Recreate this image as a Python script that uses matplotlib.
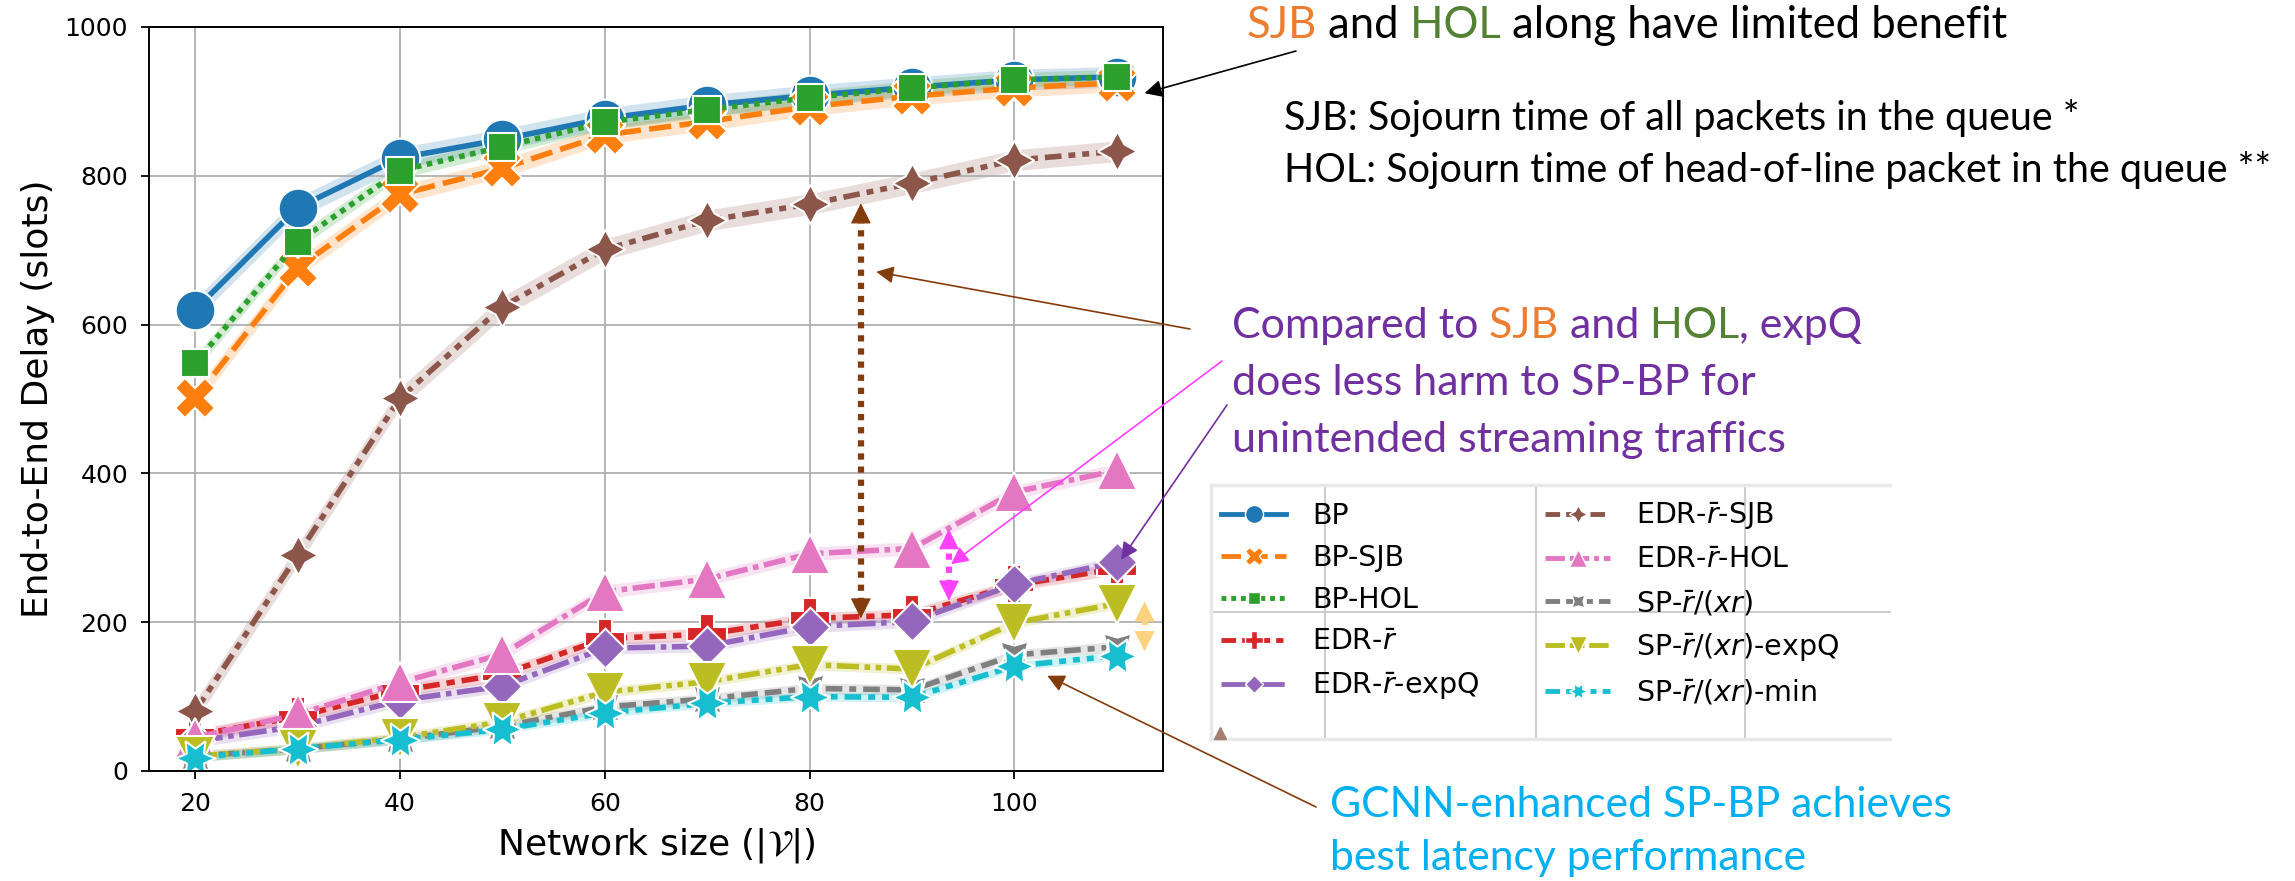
import matplotlib
matplotlib.use("Agg")
import matplotlib.pyplot as plt
from matplotlib.lines import Line2D
from matplotlib.patches import Rectangle

W, H = 2295, 881

sizes = [20, 30, 40, 50, 60, 70, 80, 90, 100, 110]

bp = [620, 757, 824, 849, 877, 895, 908, 919, 929, 933]
bp_sjb = [501, 676, 775, 810, 855, 873, 893, 907, 918, 925]
bp_hol = [548, 711, 807, 839, 872, 889, 905, 918, 929, 933]
edr = [48, 73, 108, 130, 178, 184, 205, 210, 250, 272]
edr_expq = [40, 60, 95, 114, 165, 168, 194, 201, 251, 281]
edr_sjb = [80, 290, 501, 624, 701, 740, 762, 790, 821, 833]
edr_hol = [45, 76, 119, 157, 241, 258, 292, 299, 375, 404]
sp = [20, 30, 43, 60, 86, 97, 111, 109, 156, 167]
sp_expq = [20, 30, 45, 66, 106, 120, 143, 137, 199, 225]
sp_min = [18, 30, 42, 56, 78, 91, 100, 99, 141, 155]

# half width of the shaded band around each line
bands = [14, 12, 10, 8, 8, 14, 9, 7, 7, 6]

labels = ["BP", "BP-SJB", "BP-HOL", r"EDR-$\bar{r}$", r"EDR-$\bar{r}$-expQ",
          r"EDR-$\bar{r}$-SJB", r"EDR-$\bar{r}$-HOL", r"SP-$\bar{r}/(xr)$",
          r"SP-$\bar{r}/(xr)$-expQ", r"SP-$\bar{r}/(xr)$-min"]
values = [bp, bp_sjb, bp_hol, edr, edr_expq, edr_sjb, edr_hol, sp, sp_expq, sp_min]

colors = ["#1f77b4", "#ff7f0e", "#2ca02c", "#d62728", "#9467bd",
          "#8c564b", "#e377c2", "#7f7f7f", "#bcbd22", "#17becf"]
markers = ["o", "X", (4, 0, 45), "P", (4, 0, 0), (4, 1, 0), "^", (4, 1, 45), "v", (6, 1, 30)]
dashes = [None, (4, 1.5), (1, 1), (3, 1.25, 1.5, 1.25), (5, 1, 1, 1),
          (3, 1.25, 1.25, 1.25, 1.25, 1.25), (4, 1, 4, 1, 1, 1),
          (3, 1.25, 3, 1.25, 1.25, 1.25), (4, 1, 1, 1, 1, 1),
          (3, 1.25, 1.25, 1.25, 1.25, 1.25, 1.25, 1.25)]

fig = plt.figure(figsize=(W / 100, H / 100), dpi=100)
ax = fig.add_axes([149 / W, 1 - 771 / H, (1163 - 149) / W, (771 - 27) / H])
renderer = fig.canvas.get_renderer()

handles = []
for vals, band, c, m, d, lab in zip(values, bands, colors, markers, dashes, labels):
    ax.fill_between(sizes, [v - band for v in vals], [v + band for v in vals],
                    color=c, alpha=0.2, lw=0)
    ln, = ax.plot(sizes, vals, color=c, lw=4, marker=m, ms=28.5,
                  mec="white", mew=1.5)
    h = Line2D([], [], color=c, lw=3.5, marker=m, ms=13, mec="white", mew=1)
    if d is not None:
        ln.set_dashes(d)
        h.set_dashes(d)
    handles.append(h)

ax.set_xlim(15.5, 114.5)
ax.set_ylim(0, 1000)
ax.set_xticks([20, 40, 60, 80, 100])
ax.set_yticks([0, 200, 400, 600, 800, 1000])
ax.grid(True, color="#b0b0b0", lw=1.3)
ax.tick_params(labelsize=18, length=6, width=1.3, pad=9)
for s in ax.spines.values():
    s.set_linewidth(1.4)
ax.set_xlabel(r"Network size ($|\mathcal{V}|$)", fontsize=26, labelpad=7)
ax.set_ylabel("End-to-End Delay (slots)", fontsize=26, labelpad=7)


# dotted double arrows inside the plot
def double_arrow(x, y0, y1, c, lw):
    head = 24
    ax.plot([x, x], [y0 + head * 0.8, y1 - head * 0.8], color=c, lw=lw, dashes=(1, 1.1))
    for tip, base in [(y0, y0 + head), (y1, y1 - head)]:
        ax.annotate("", xy=(x, tip), xytext=(x, base),
                    arrowprops=dict(arrowstyle="-|>,head_length=0.6,head_width=0.3",
                                    color=c, lw=0.8, mutation_scale=22,
                                    shrinkA=0, shrinkB=0))


double_arrow(85, 205, 763, "#843c0c", 4.5)
double_arrow(93.6, 229, 325, "#ff40ff", 4.5)
double_arrow(112.7, 161, 228, "#ffd27f", 4)

# pointers from the notes to the plot
for tip, start, c in [((112.7, 911), (1296, 51), "black"),
                      ((86.5, 671), (1190, 329), "#843c0c"),
                      ((93.8, 278), (1222, 361), "#ff40ff"),
                      ((110.4, 284), (1227, 405), "#7030a0"),
                      ((103.2, 128), (1316, 807), "#843c0c")]:
    ax.annotate("", xy=tip, xytext=(start[0], H - start[1]), textcoords="figure pixels",
                arrowprops=dict(arrowstyle="-|>", color=c, lw=1.2, mutation_scale=26,
                                shrinkA=0, shrinkB=0), annotation_clip=False)

# legend, pasted on a white patch with faint grid behind it
fig.add_artist(Rectangle((1211 / W, 1 - 739 / H), (1890 - 1211) / W, (739 - 485) / H,
                         transform=fig.transFigure, fc="white", ec="none", zorder=1))
for gx in [1325, 1536, 1745]:
    fig.add_artist(Line2D([gx / W, gx / W], [1 - 487 / H, 1 - 737 / H],
                          transform=fig.transFigure, color="#c8c8c8", lw=1.3, zorder=1.5))
fig.add_artist(Line2D([1211 / W, 1890 / W], [1 - 612 / H, 1 - 612 / H],
                      transform=fig.transFigure, color="#c8c8c8", lw=1.3, zorder=1.5))
for xs, ys in [([1211, 1890], [485, 485]), ([1211, 1890], [739, 739]), ([1211, 1211], [485, 739])]:
    fig.add_artist(Line2D([x / W for x in xs], [1 - y / H for y in ys],
                          transform=fig.transFigure, color="#e8e8e8", lw=2.5, zorder=1.6))
fig.add_artist(Line2D([1220 / W], [1 - 733 / H], transform=fig.transFigure, marker="^",
                      ms=9, color="#a57c70", lw=0, zorder=1.7))
fig.legend(handles, labels, ncol=2, loc="upper left", bbox_to_anchor=(1221 / W, 1 - 500 / H),
           frameon=False, fontsize=20.5, handlelength=2.3, handletextpad=0.9,
           columnspacing=2.3, borderpad=0, borderaxespad=0)

ORANGE, GREEN, PURPLE, BLUE = "#ed7d31", "#548235", "#7030a0", "#00b0f0"
FONT = "Lato"


def fit_size(s, width_px, base=30):
    t = fig.text(0, 0, s, fontsize=base, family=FONT)
    w = t.get_window_extent(renderer).width
    t.remove()
    return base * width_px / w


def rich_line(x, y, parts, size):
    t = fig.text(x / W, 1 - y / H, parts[0][0], color=parts[0][1], fontsize=size,
                 family=FONT, va="baseline")
    for s, c in parts[1:]:
        t = ax.annotate(s, xy=(1, 0), xycoords=t, va="bottom", color=c, fontsize=size,
                        family=FONT, annotation_clip=False)


size_top = fit_size("SJB and HOL along have limited benefit", 759)
size_note = fit_size("HOL: Sojourn time of head-of-line packet in the queue **", 987)
size_purple = fit_size("Compared to SJB and HOL, expQ", 630)
size_blue = fit_size("GCNN-enhanced SP-BP achieves", 623)

rich_line(1247, 38, [("SJB", ORANGE), (" and", "black"), (" HOL", GREEN),
                     (" along have limited benefit", "black")], size_top)
rich_line(1284, 130, [("SJB: Sojourn time of all packets in the queue *", "black")], size_note)
rich_line(1284, 182, [("HOL: Sojourn time of head-of-line packet in the queue **", "black")], size_note)
rich_line(1232, 338, [("Compared to", PURPLE), (" SJB", ORANGE), (" and", PURPLE),
                      (" HOL", GREEN), (", expQ", PURPLE)], size_purple)
rich_line(1232, 395, [("does less harm to SP-BP for", PURPLE)], size_purple)
rich_line(1232, 452, [("unintended streaming traffics", PURPLE)], size_purple)
rich_line(1330, 817, [("GCNN-enhanced SP-BP achieves", BLUE)], size_blue)
rich_line(1330, 870, [("best latency performance", BLUE)], size_blue)

fig.savefig("out.png", dpi=100)
